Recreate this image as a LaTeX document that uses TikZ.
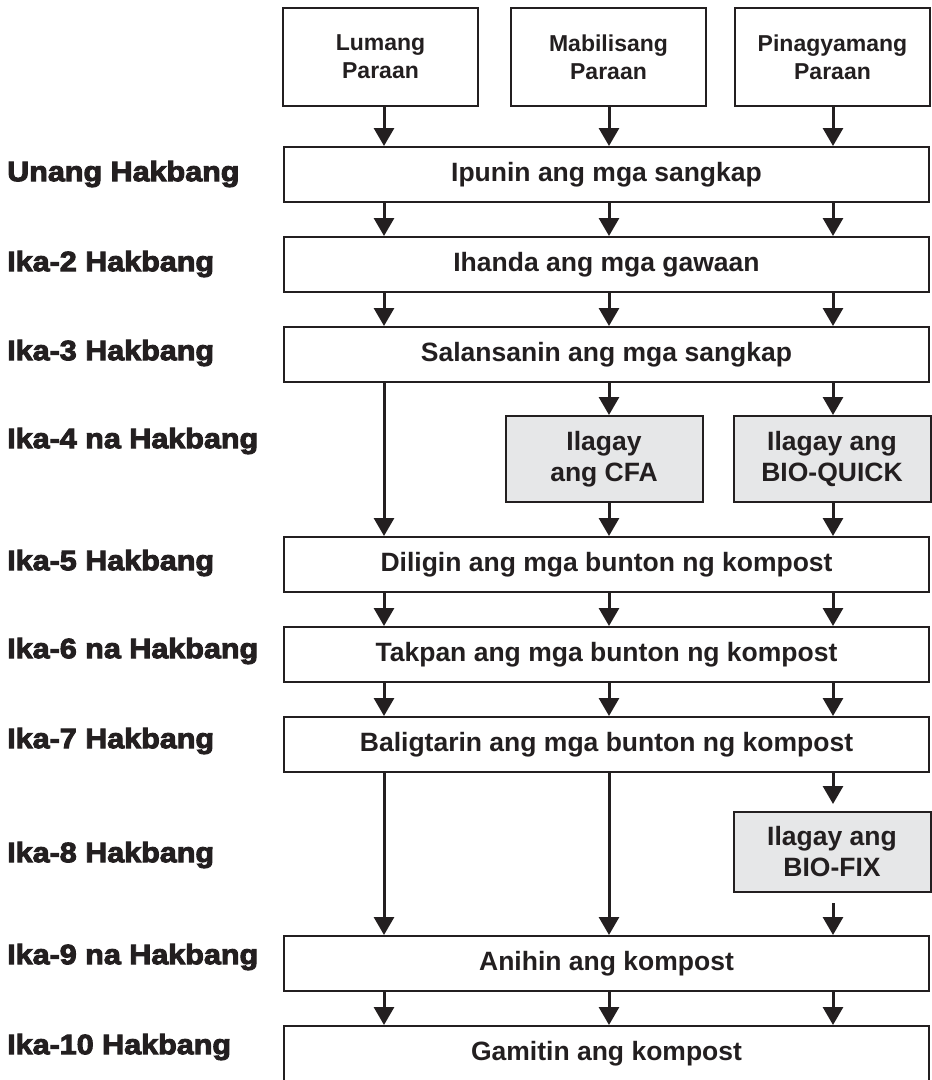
\documentclass[tikz,border=0pt]{standalone}
\usepackage{fontspec}
\setmainfont{Liberation Sans}
\newfontfamily\stepfont[FakeBold=3.5,FakeStretch=1.09]{Liberation Sans Bold}
\usetikzlibrary{arrows.meta}
\definecolor{ink}{HTML}{231F20}
\definecolor{boxgray}{HTML}{E6E7E8}

\begin{document}
\begin{tikzpicture}[x=1pt, y=-1pt]
	\clip (0,0) rectangle (932,1080);
	\coordinate (c1) at (384,0);
	\coordinate (c2) at (609,0);
	\coordinate (c3) at (833,0);

	\begin{scope}[every node/.style={draw=ink, line width=2pt, align=center, text=ink, inner sep=0pt,
	              minimum width=195pt, minimum height=98pt, font=\fontsize{23}{28}\selectfont\bfseries}]
		\node (lumang) at (380.5,57) {Lumang\\Paraan};
		\node (mabilis) at (608.5,57) {Mabilisang\\Paraan};
		\node (pinagyaman) at (832.5,57) {Pinagyamang\\Paraan};
	\end{scope}

	\begin{scope}[every node/.style={draw=ink, line width=2pt, align=center, text=ink, inner sep=0pt,
	              minimum width=645pt, minimum height=55pt, font=\fontsize{26.5}{31}\selectfont\bfseries}]
		\node (ipunin) at (606.5,174.5) {Ipunin ang mga sangkap};
		\node (ihanda) at (606.5,264.5) {Ihanda ang mga gawaan};
		\node (salansan) at (606.5,354.5) {Salansanin ang mga sangkap};
		\node (diligin) at (606.5,564.5) {Diligin ang mga bunton ng kompost};
		\node (takpan) at (606.5,654.5) {Takpan ang mga bunton ng kompost};
		\node (baligtad) at (606.5,744.5) {Baligtarin ang mga bunton ng kompost};
		\node (anihin) at (606.5,963.5) {Anihin ang kompost};
		\node (gamitin) at (606.5,1053.5) {Gamitin ang kompost};
	\end{scope}

	\begin{scope}[every node/.style={draw=ink, fill=boxgray, line width=2pt, align=center, text=ink, inner sep=0pt,
	              minimum width=197pt, font=\fontsize{26.5}{31}\selectfont\bfseries}]
		\node[minimum height=86pt] (cfa) at (604,459) {Ilagay\\ang CFA};
		\node[minimum height=86pt] (bioquick) at (832,459) {Ilagay ang\\BIO-QUICK};
		\node[minimum height=80pt] (biofix) at (832,852) {Ilagay ang\\BIO-FIX};
	\end{scope}

	\begin{scope}[every node/.style={anchor=west, text=ink, inner sep=0pt, font=\fontsize{28}{30}\stepfont}]
		\node (hakbang1) at (7,174) {Unang Hakbang};
		\node (hakbang2) at (7,264) {Ika-2 Hakbang};
		\node (hakbang3) at (7,353) {Ika-3 Hakbang};
		\node (hakbang4) at (7,441) {Ika-4 na Hakbang};
		\node (hakbang5) at (7,563) {Ika-5 Hakbang};
		\node (hakbang6) at (7,651) {Ika-6 na Hakbang};
		\node (hakbang7) at (7,741) {Ika-7 Hakbang};
		\node (hakbang8) at (7,855) {Ika-8 Hakbang};
		\node (hakbang9) at (7,957) {Ika-9 na Hakbang};
		\node (hakbang10) at (7,1047) {Ika-10 Hakbang};
	\end{scope}

	\begin{scope}[>={Triangle[width=20pt,length=18pt]},
	              every edge/.style={draw=ink, line width=3pt, ->}]
		\path (lumang.south -| c1) edge (ipunin.north -| c1);
		\path (mabilis.south -| c2) edge (ipunin.north -| c2);
		\path (pinagyaman.south -| c3) edge (ipunin.north -| c3);
		\path (ipunin.south -| c1) edge (ihanda.north -| c1);
		\path (ipunin.south -| c2) edge (ihanda.north -| c2);
		\path (ipunin.south -| c3) edge (ihanda.north -| c3);
		\path (ihanda.south -| c1) edge (salansan.north -| c1);
		\path (ihanda.south -| c2) edge (salansan.north -| c2);
		\path (ihanda.south -| c3) edge (salansan.north -| c3);
		\path (salansan.south -| c1) edge (diligin.north -| c1);
		\path (salansan.south -| c2) edge (cfa.north -| c2);
		\path (salansan.south -| c3) edge (bioquick.north -| c3);
		\path (cfa.south -| c2) edge (diligin.north -| c2);
		\path (bioquick.south -| c3) edge (diligin.north -| c3);
		\path (diligin.south -| c1) edge (takpan.north -| c1);
		\path (diligin.south -| c2) edge (takpan.north -| c2);
		\path (diligin.south -| c3) edge (takpan.north -| c3);
		\path (takpan.south -| c1) edge (baligtad.north -| c1);
		\path (takpan.south -| c2) edge (baligtad.north -| c2);
		\path (takpan.south -| c3) edge (baligtad.north -| c3);
		\path (baligtad.south -| c1) edge (anihin.north -| c1);
		\path (baligtad.south -| c2) edge (anihin.north -| c2);
		\path (baligtad.south -| c3) edge[shorten >=7pt] (biofix.north -| c3);
		\path (biofix.south -| c3) edge[shorten <=10pt] (anihin.north -| c3);
		\path (anihin.south -| c1) edge (gamitin.north -| c1);
		\path (anihin.south -| c2) edge (gamitin.north -| c2);
		\path (anihin.south -| c3) edge (gamitin.north -| c3);
	\end{scope}
\end{tikzpicture}
\end{document}
